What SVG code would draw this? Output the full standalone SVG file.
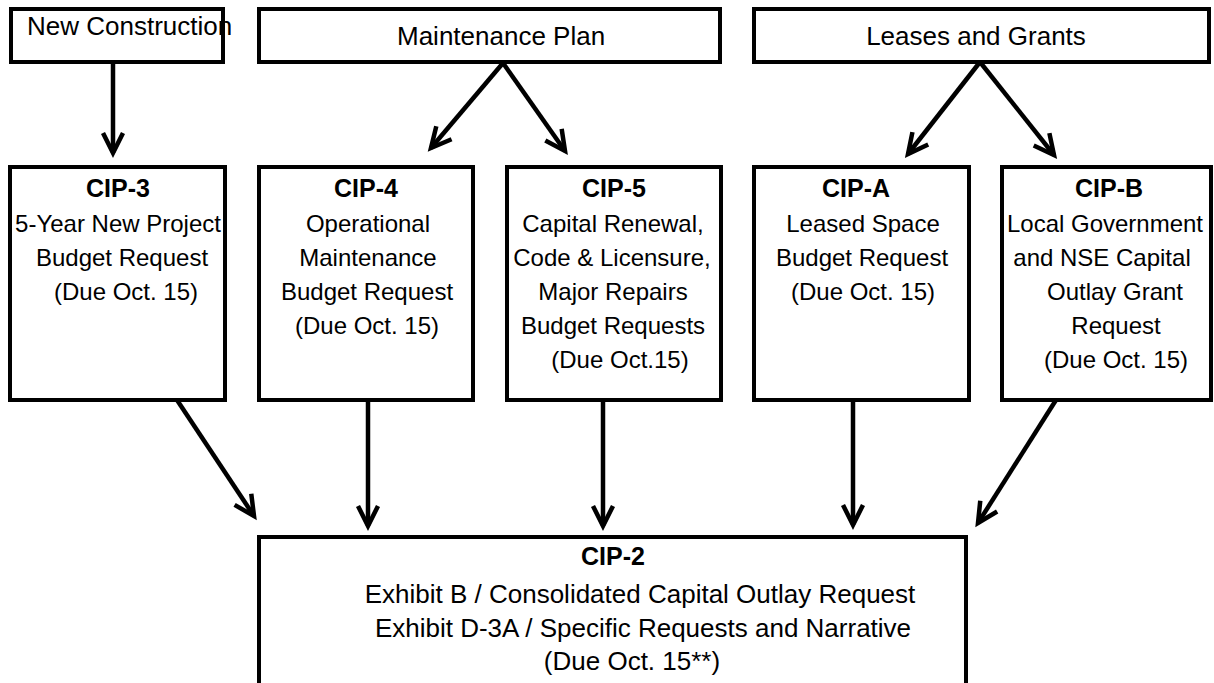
<svg xmlns="http://www.w3.org/2000/svg" width="1214" height="683" viewBox="0 0 1214 683">
<style>
.box{fill:#fff;stroke:#000;stroke-width:4}
.t{font-family:"Liberation Sans",Arial,sans-serif;font-size:24px;fill:#000}
.top{font-size:26px}
.c{text-anchor:middle}
.h{font-weight:bold;font-size:25px}
.cx{font-size:26px}
.con{stroke:#000;stroke-width:4.5;fill:none;marker-end:url(#arr)}
</style>
<defs>
<marker id="arr" markerUnits="userSpaceOnUse" viewBox="-24 -14 28 28" refX="0" refY="0" markerWidth="28" markerHeight="28" orient="auto" overflow="visible">
<path d="M-20,-10 L0,0 L-20,10" fill="none" stroke="#000" stroke-width="4.5" stroke-linejoin="miter"/>
</marker>
</defs>
<rect width="1214" height="683" fill="#fff"/>
<g id="connectors">
<line class="con" x1="113" y1="62" x2="113" y2="153"/>
<line class="con" x1="503" y1="63" x2="431" y2="148"/>
<line class="con" x1="503" y1="63" x2="565" y2="151"/>
<line class="con" x1="980" y1="62" x2="908" y2="154"/>
<line class="con" x1="980" y1="62" x2="1054" y2="155"/>
<line class="con" x1="177" y1="400" x2="254" y2="516"/>
<line class="con" x1="368" y1="400" x2="368" y2="526"/>
<line class="con" x1="603" y1="400" x2="603" y2="526"/>
<line class="con" x1="853" y1="394" x2="853" y2="525"/>
<line class="con" x1="1056" y1="400" x2="978" y2="523"/>
</g>
<g id="new-construction">
<rect class="box" x="11" y="9" width="212" height="53"/>
<text class="t top" x="27" y="35">New Construction</text>
</g>
<g id="maintenance-plan">
<rect class="box" x="259" y="9" width="461" height="53"/>
<text class="t top" x="397" y="45">Maintenance Plan</text>
</g>
<g id="leases-grants">
<rect class="box" x="754" y="9" width="455" height="53"/>
<text class="t top c" x="976" y="45">Leases and Grants</text>
</g>
<g id="cip-3">
<rect class="box" x="10" y="167" width="215" height="233"/>
<text class="t h c" x="118" y="197">CIP-3</text>
<text class="t c" x="118" y="232">5-Year New Project</text>
<text class="t c" x="122" y="266">Budget Request</text>
<text class="t c" x="126" y="300">(Due Oct. 15)</text>
</g>
<g id="cip-4">
<rect class="box" x="259" y="167" width="214" height="233"/>
<text class="t h c" x="366" y="197">CIP-4</text>
<text class="t c" x="368" y="232">Operational</text>
<text class="t c" x="368" y="266">Maintenance</text>
<text class="t c" x="367" y="300">Budget Request</text>
<text class="t c" x="367" y="334">(Due Oct. 15)</text>
</g>
<g id="cip-5">
<rect class="box" x="507" y="167" width="214" height="233"/>
<text class="t h c" x="614" y="197">CIP-5</text>
<text class="t c" x="613" y="232">Capital Renewal,</text>
<text class="t c" x="612" y="266">Code &amp; Licensure,</text>
<text class="t c" x="613" y="300">Major Repairs</text>
<text class="t c" x="613" y="334">Budget Requests</text>
<text class="t c" x="620" y="368">(Due Oct.15)</text>
</g>
<g id="cip-a">
<rect class="box" x="754" y="167" width="215" height="233"/>
<text class="t h c" x="856" y="197">CIP-A</text>
<text class="t c" x="863" y="232">Leased Space</text>
<text class="t c" x="862" y="266">Budget Request</text>
<text class="t c" x="863" y="300">(Due Oct. 15)</text>
</g>
<g id="cip-b">
<rect class="box" x="1002" y="167" width="209" height="233"/>
<text class="t h c" x="1109" y="197">CIP-B</text>
<text class="t c" x="1105" y="232">Local Government</text>
<text class="t c" x="1102" y="266">and NSE Capital</text>
<text class="t c" x="1115" y="300">Outlay Grant</text>
<text class="t c" x="1116" y="334">Request</text>
<text class="t c" x="1116" y="368">(Due Oct. 15)</text>
</g>
<g id="cip-2">
<rect class="box" x="259" y="537" width="707" height="160"/>
<text class="t h c" x="613" y="565">CIP-2</text>
<text class="t cx c" x="640" y="603">Exhibit B / Consolidated Capital Outlay Request</text>
<text class="t cx c" x="643" y="637">Exhibit D-3A / Specific Requests and Narrative</text>
<text class="t cx c" x="632" y="670">(Due Oct. 15**)</text>
</g>
</svg>
